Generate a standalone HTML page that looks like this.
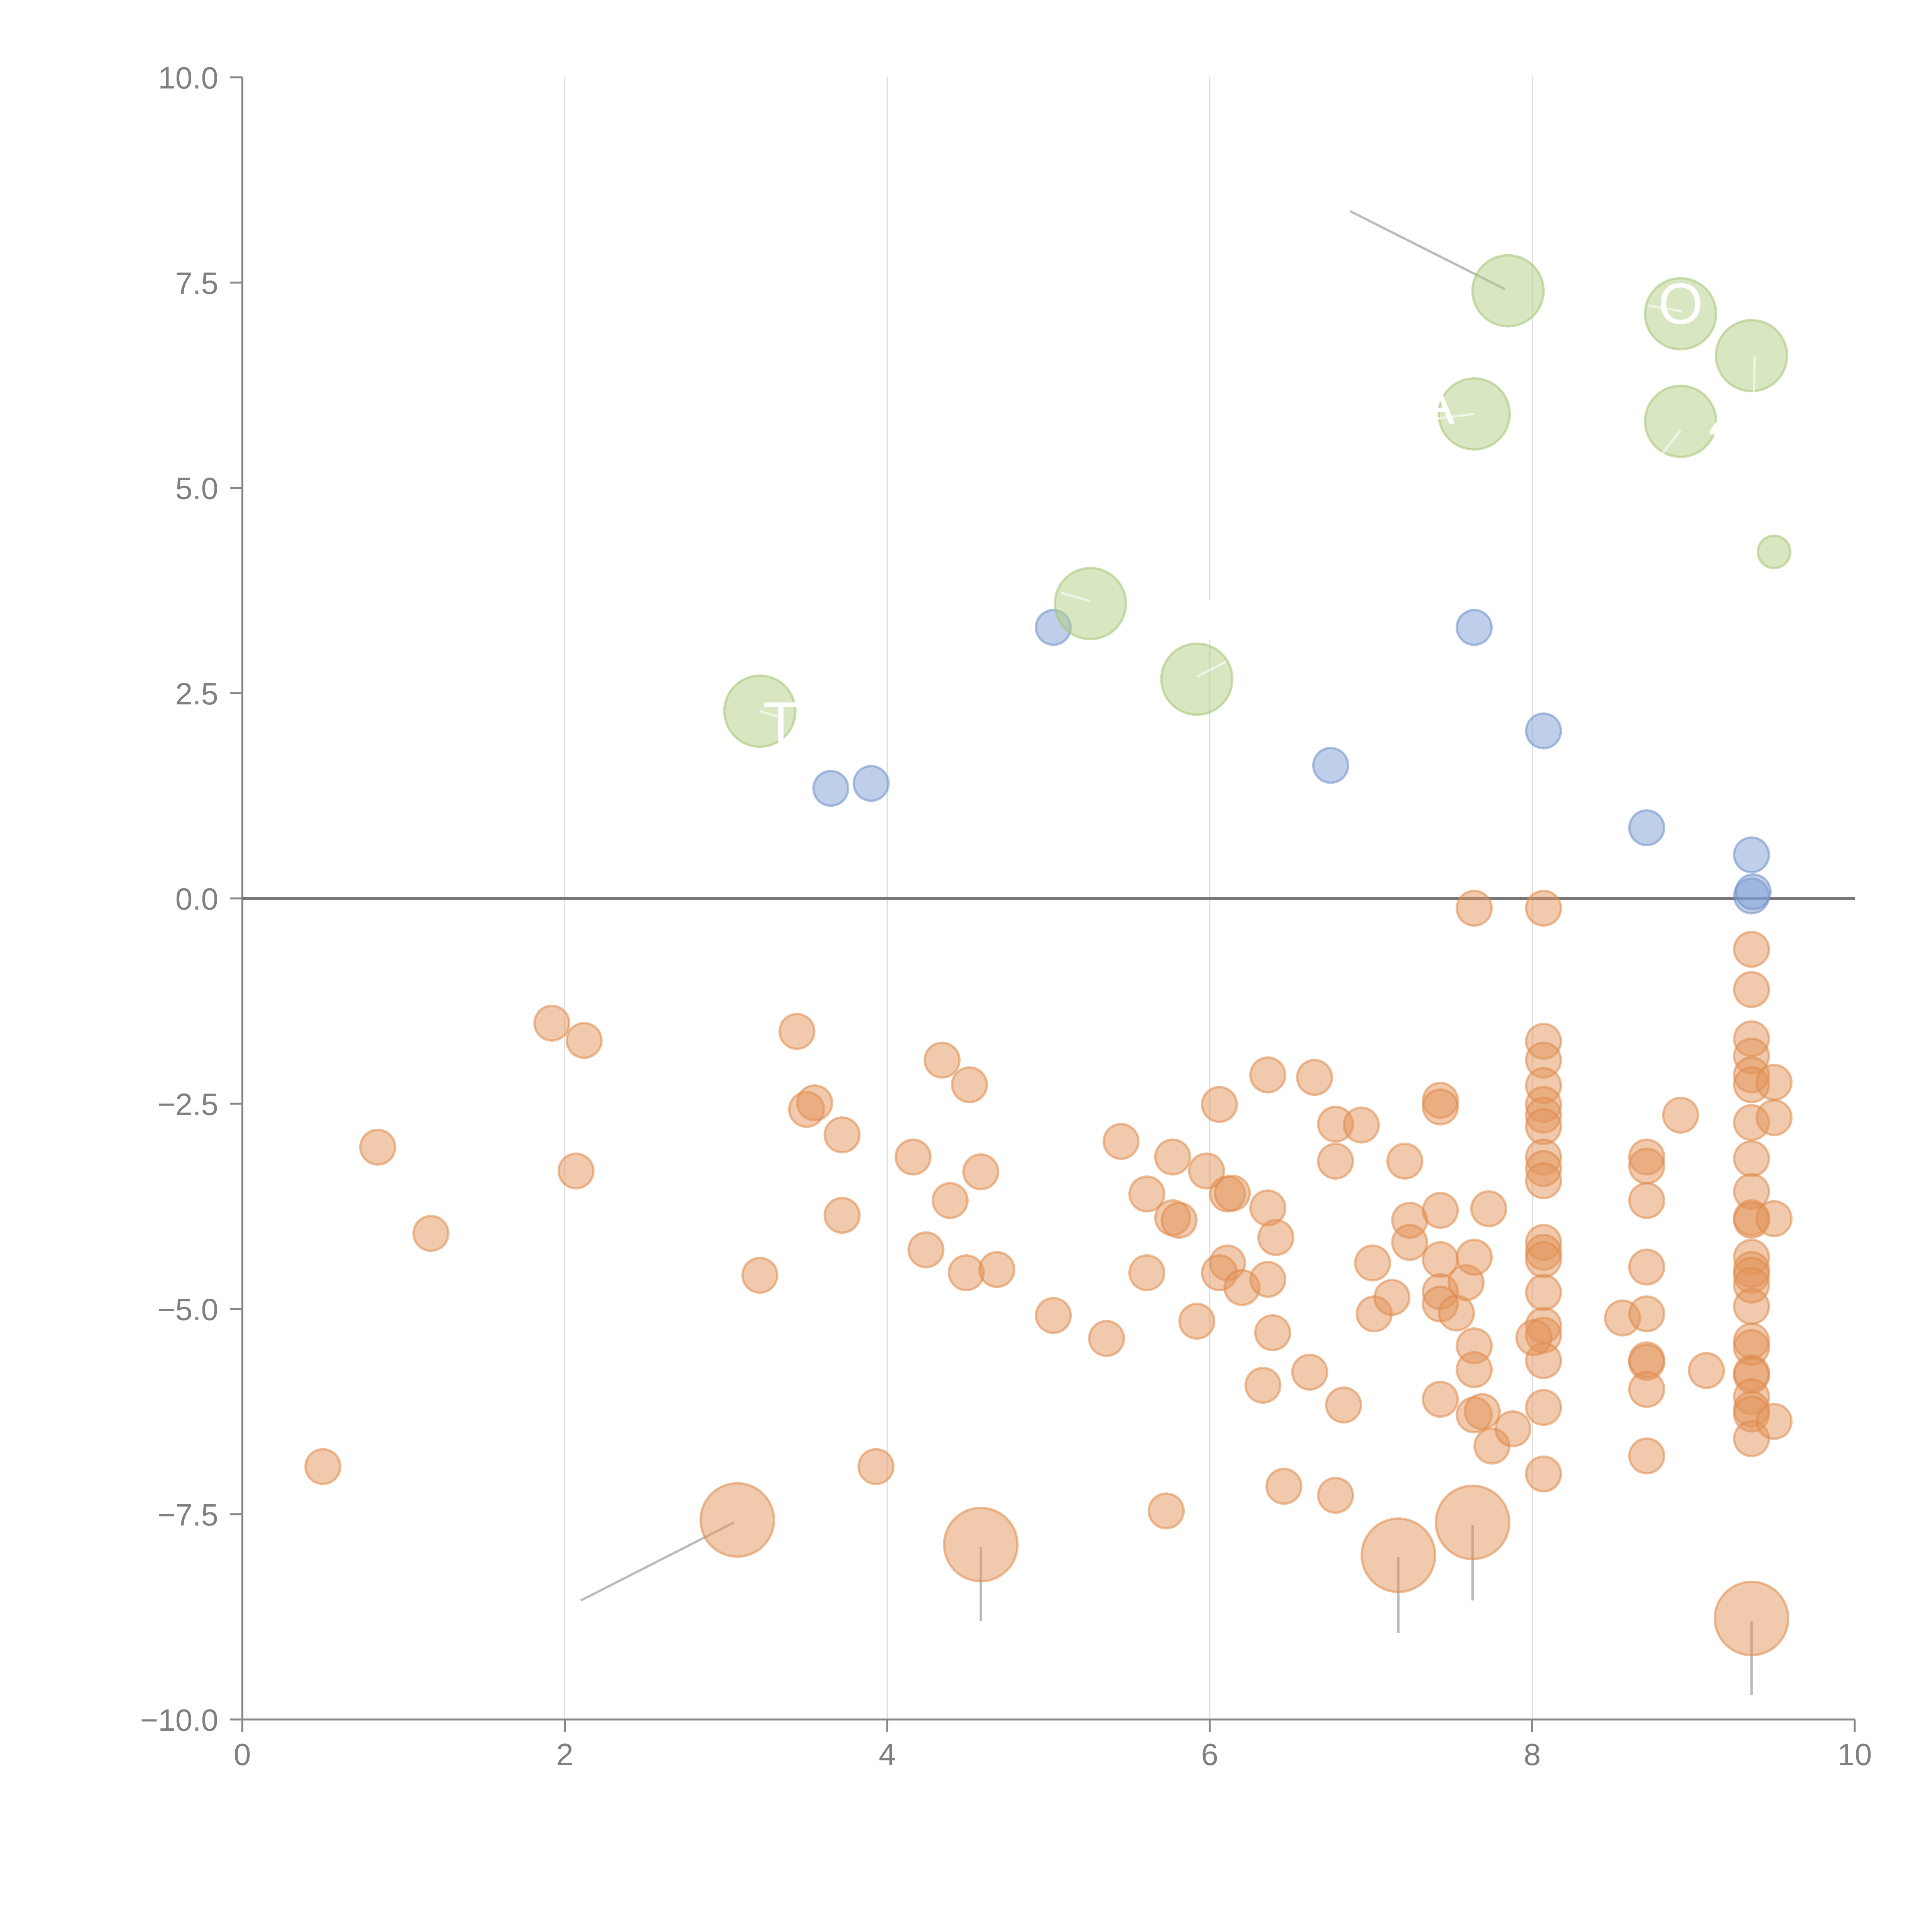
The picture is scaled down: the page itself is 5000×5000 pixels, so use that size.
<!DOCTYPE html>
<html><head><meta charset="utf-8"><style>
html,body{margin:0;padding:0;background:#fff;}
svg{display:block;}
text{font-family:"Liberation Sans",Arial,sans-serif;}
</style></head>
<body>
<svg id="chart" width="5000" height="5000" viewBox="0 0 5000 5000" xmlns="http://www.w3.org/2000/svg">
<g id="grid"></g>
<g id="axes"></g>
<g id="leaders"></g>
<g id="marks"></g>
<g id="labels"></g>
</svg>
<script>
const xTicks = [0, 2, 4, 6, 8, 10];
const xTickLabels = ["0", "2", "4", "6", "8", "10"];
const yTicks = [10, 7.5, 5, 2.5, 0, -2.5, -5, -7.5, -10];
const yTickLabels = ["10.0", "7.5", "5.0", "2.5", "0.0", "\u22122.5", "\u22125.0", "\u22127.5", "\u221210.0"];

const blueX = [3.65, 3.90, 5.03, 6.75, 7.64, 8.07, 8.71, 9.36, 9.36, 9.37];
const blueY = [1.34, 1.40, 3.30, 1.62, 3.30, 2.04, 0.86, 0.53, 0.03, 0.08];

const greenX = [7.85, 8.92, 9.36, 7.64, 8.92, 9.50, 5.26, 5.92, 3.21];
const greenY = [7.40, 7.12, 6.61, 5.90, 5.81, 4.22, 3.59, 2.67, 2.28];
const greenBig = [1, 1, 1, 1, 1, 0, 1, 1, 1];

const orangeBigX = [3.07, 4.58, 7.17, 7.63, 9.36];
const orangeBigY = [-7.57, -7.87, -8.00, -7.60, -8.77];

const orangeX = [1.92,2.12,0.84,2.07,1.17,0.50,3.44,3.50,3.55,3.72,3.72,3.21,3.93,4.34,4.51,4.16,4.39,4.58,4.24,4.49,4.68,5.03,5.36,5.45,5.73,5.61,5.77,5.77,5.81,5.61,5.92,5.98,6.06,6.11,6.14,6.11,6.06,6.20,6.36,6.36,6.41,6.36,6.39,6.33,6.62,6.46,6.65,6.78,6.94,6.78,6.83,6.78,7.01,7.02,7.13,7.21,7.24,7.24,7.43,7.43,7.43,7.43,7.43,7.43,7.53,7.59,7.64,7.64,7.64,7.43,7.64,7.69,7.75,7.88,7.73,7.64,8.07,
8.07,8.07,8.07,8.07,8.07,8.07,8.07,8.07,8.07,8.07,8.07,8.07,8.07,8.07,8.07,8.07,8.07,8.07,8.01,8.56,
8.71,8.71,8.71,8.71,8.71,8.71,8.71,8.71,8.71,8.92,9.08,
9.36,9.36,9.36,9.36,9.36,9.36,9.36,9.36,9.36,9.36,9.36,9.36,9.36,9.36,9.36,9.36,9.36,9.36,9.36,9.36,9.36,9.36,9.36,9.36,
9.50,9.50,9.50,9.50];
const orangeY = [-1.52,-1.73,-3.03,-3.32,-4.08,-6.92,-1.62,-2.57,-2.49,-2.88,-3.86,-4.59,-6.92,-1.97,-2.27,-3.15,-3.68,-3.33,-4.28,-4.56,-4.52,-5.08,-5.36,-2.96,-7.46,-3.60,-3.15,-3.89,-3.92,-4.56,-5.15,-3.32,-2.51,-3.60,-3.59,-4.44,-4.56,-4.74,-2.15,-3.77,-4.13,-4.64,-5.29,-5.93,-5.77,-7.16,-2.18,-2.75,-2.76,-3.20,-6.17,-7.27,-4.44,-5.06,-4.86,-3.20,-3.92,-4.19,-2.46,-2.54,-3.80,-4.40,-4.79,-4.94,-5.05,-4.68,-4.37,-5.45,-5.74,-6.10,-6.29,-6.25,-6.67,-6.46,-3.78,-0.12,-0.12,
-1.74,-1.97,-2.28,-2.51,-2.64,-2.78,-3.15,-3.29,-3.44,-4.19,-4.31,-4.40,-4.80,-5.20,-5.32,-5.63,-6.20,-7.01,-5.35,-5.11,
-3.15,-3.26,-3.68,-4.49,-5.06,-5.62,-5.65,-5.98,-6.79,-2.64,-5.75,
-0.62,-1.11,-1.71,-1.92,-2.15,-2.27,-2.73,-3.17,-3.57,-3.89,-3.92,-4.37,-4.52,-4.59,-4.71,-4.97,-5.39,-5.47,-5.78,-5.81,-6.07,-6.22,-6.28,-6.58,
-2.24,-2.67,-3.90,-6.37];

const leaderX1 = [6.87, 2.10, 4.58, 7.17, 7.63, 9.36];
const leaderY1 = [8.37, -8.55, -8.80, -8.95, -8.55, -9.70];
const leaderX2 = [7.83, 3.05, 4.58, 7.17, 7.63, 9.36];
const leaderY2 = [7.42, -7.60, -7.90, -8.02, -7.63, -8.80];

const wLeadX1 = [8.93, 7.64, 9.37, 8.92, 5.26, 5.92, 3.21];
const wLeadY1 = [7.15, 5.90, 5.80, 5.70, 3.62, 2.70, 2.28];
const wLeadX2 = [8.72, 7.40, 9.38, 8.80, 5.08, 6.10, 3.35];
const wLeadY2 = [7.22, 5.84, 6.60, 5.40, 3.72, 2.88, 2.20];

const labelText = ["O", "Z", "A", "T", "I"];
const labelX = [8.92, 9.20, 7.40, 3.34, 5.99];
const labelY = [7.00, 5.65, 5.78, 1.90, 3.15];

const X0 = 627, X1 = 4800, Y0 = 4450, Y1 = 200;
const xs = v => X0 + (v - 0) / 10 * (X1 - X0);
const ys = v => Y0 - (v + 10) / 20 * (Y0 - Y1);
const NS = "http://www.w3.org/2000/svg";
function mk(tag, parent, attrs) {
  const e = document.createElementNS(NS, tag);
  for (const k in attrs) e.setAttribute(k, attrs[k]);
  parent.appendChild(e);
  return e;
}
const grid = document.getElementById('grid');
const axes = document.getElementById('axes');
const leaders = document.getElementById('leaders');
const marks = document.getElementById('marks');
const labels = document.getElementById('labels');

xTicks.forEach((t, i) => {
  if (t > 0 && t < 10) {
    const g = mk('line', grid, {x1: xs(t), x2: xs(t), y1: Y1, y2: Y0, stroke: '#dcdcdc', 'stroke-width': 3});
    
    
  }
  const tk = mk('line', axes, {x1: xs(t), x2: xs(t), y1: Y0, y2: Y0 + 32, stroke: '#888', 'stroke-width': 5});
  
  
  const tl = mk('text', axes, {x: xs(t), y: Y0 + 118, 'text-anchor': 'middle', 'font-size': 80, fill: '#808080'});
  tl.textContent = xTickLabels[i];
  
  
});
yTicks.forEach((t, i) => {
  const tk = mk('line', axes, {x1: X0 - 32, x2: X0, y1: ys(t), y2: ys(t), stroke: '#888', 'stroke-width': 5});
  
  
  const tl = mk('text', axes, {x: X0 - 62, y: ys(t) + 29, 'text-anchor': 'end', 'font-size': 80, fill: '#808080'});
  tl.textContent = yTickLabels[i];
  
  
});
const ya = mk('line', axes, {x1: X0, x2: X0, y1: Y1, y2: Y0, stroke: '#888', 'stroke-width': 5});


const xa = mk('line', axes, {x1: X0, x2: X1, y1: Y0, y2: Y0, stroke: '#888', 'stroke-width': 5});


const zl = mk('line', axes, {x1: X0, x2: X1, y1: ys(0), y2: ys(0), stroke: '#777', 'stroke-width': 8});



leaderX1.forEach((v, i) => {
  const l = mk('line', leaders, {x1: xs(v), y1: ys(leaderY1[i]), x2: xs(leaderX2[i]), y2: ys(leaderY2[i]), stroke: '#aaa', 'stroke-width': 6, 'stroke-opacity': 0.8});
  
  
});

function dot(x, y, r, fill, stroke, name) {
  const c = mk('circle', marks, {cx: xs(x), cy: ys(y), r: r, fill: fill, 'fill-opacity': 0.5, stroke: stroke, 'stroke-opacity': 0.55, 'stroke-width': 6});
  
  
}
orangeX.forEach((x, i) => dot(x, orangeY[i], 45, '#e4945a', '#df8a4c', 'orange-point'));
orangeBigX.forEach((x, i) => dot(x, orangeBigY[i], 95, '#e4945a', '#df8a4c', 'orange-large-point'));
blueX.forEach((x, i) => dot(x, blueY[i], 45, '#7f9fd3', '#6f90c8', 'blue-point'));
greenX.forEach((x, i) => dot(x, greenY[i], greenBig[i] ? 92 : 42, '#b2cf84', '#a6c575', 'green-point'));

wLeadX1.forEach((v, i) => {
  const l = mk('line', labels, {x1: xs(v), y1: ys(wLeadY1[i]), x2: xs(wLeadX2[i]), y2: ys(wLeadY2[i]), stroke: '#fff', 'stroke-width': 6, 'stroke-opacity': 0.6});
  
  
});
labelText.forEach((s, i) => {
  const t = mk('text', labels, {x: xs(labelX[i]), y: ys(labelY[i]), 'text-anchor': 'middle', 'font-size': 150, fill: '#fff'});
  t.textContent = s;
  
  
});
</script>
</body></html>
